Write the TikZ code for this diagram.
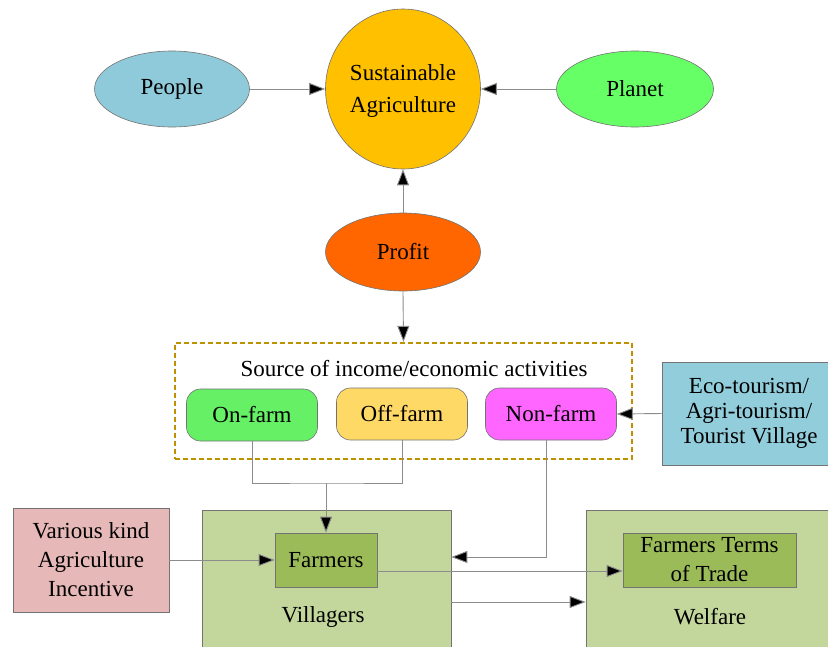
\documentclass[tikz,border=0pt]{standalone}
\usepackage{fontspec}
\setmainfont{Liberation Serif}
\newfontfamily\timesfont{Liberation Serif}
\usetikzlibrary{arrows.meta,shapes.geometric}
\definecolor{cPeople}{HTML}{8FCADA}
\definecolor{cSA}{HTML}{FFC000}
\definecolor{cPlanet}{HTML}{66FF66}
\definecolor{cProfit}{HTML}{FF6600}
\definecolor{cOn}{HTML}{66F066}
\definecolor{cOff}{HTML}{FFD966}
\definecolor{cNon}{HTML}{FF66FF}
\definecolor{cEco}{HTML}{92CDDC}
\definecolor{cVill}{HTML}{C3D69B}
\definecolor{cFarm}{HTML}{9BBB59}
\definecolor{cInc}{HTML}{E6B9B8}
\definecolor{cDash}{HTML}{BF9000}
\definecolor{cLine}{HTML}{8C8C8C}
\tikzset{
  txt/.style={font=\timesfont\fontsize{23}{29}\selectfont},
  base/.style={txt, align=center, inner sep=0pt, draw=black!55, line width=0.6pt},
  oval/.style={base, ellipse},
  pill/.style={base, rounded corners=14pt, minimum width=131pt, minimum height=52pt},
  box/.style={base, rectangle},
  lbl/.style={txt, align=center, inner sep=0pt},
  conn/.style={draw=cLine, line width=0.9pt},
  arr/.style={conn, -{Triangle[length=16pt,width=12pt,fill=black]}},
}
\begin{document}
\begin{tikzpicture}[x=1pt,y=-1pt]
\useasboundingbox (0,0) rectangle (828,646);
\clip (0,0) rectangle (828,646);
\fill[white] (0,0) rectangle (828,646);

% top level: the three pillars
\node[oval, fill=cSA, minimum width=155pt, minimum height=160pt] (sa) at (403,89) {};
\node[lbl, font=\timesfont\fontsize{23}{32}\selectfont] (satext) at (403,91) {Sustainable\\Agriculture};
\node[oval, fill=cPeople, minimum width=155pt, minimum height=76pt] (people) at (172,89) {People};
\node[oval, fill=cPlanet, minimum width=157pt, minimum height=76pt] (planet) at (635,89) {Planet};
\node[oval, fill=cProfit, minimum width=155pt, minimum height=78pt] (profit) at (403,252) {Profit};

% income sources
\node[draw=cDash, line width=2.2pt, dash pattern=on 5pt off 3pt, minimum width=457pt, minimum height=116pt, inner sep=0pt] (src) at (403.5,401) {};
\node[lbl] (srctitle) at (414,369) {Source of income/economic activities};
\node[pill, fill=cOn] (onfarm) at (252,415) {On-farm};
\node[pill, fill=cOff] (offfarm) at (402,414) {Off-farm};
\node[pill, fill=cNon] (nonfarm) at (551,414) {Non-farm};
\node[box, fill=cEco, minimum width=178pt, minimum height=103pt] (ecobox) at (751,413.5) {};
\node[lbl, font=\timesfont\fontsize{23}{25}\selectfont] (eco) at (749,413.5) {Eco-tourism/\\Agri-tourism/\\Tourist Village};

% bottom: villagers and welfare
\node[box, fill=cVill, minimum width=249pt, minimum height=160pt] (villagers) at (326.5,590) {};
\node[lbl] (villlbl) at (323,617) {Villagers};
\node[box, fill=cVill, minimum width=254pt, minimum height=160pt] (welfare) at (713,590) {};
\node[lbl] (welflbl) at (710,617) {Welfare};
\node[box, fill=cFarm, minimum width=102pt, minimum height=54pt] (farmers) at (326,560) {Farmers};
\node[box, fill=cFarm, minimum width=173pt, minimum height=54pt] (ftt) at (709.5,560) {Farmers Terms\\of Trade};
\node[box, fill=cInc, minimum width=156pt, minimum height=104pt] (incentive) at (91,560) {Various kind\\Agriculture\\Incentive};

% connectors
\draw[arr] (people.east) -- (sa.west);
\draw[arr] (planet.west) -- (sa.east);
\draw[arr] (profit.north) -- (sa.south);
\draw[arr] (profit.south) -- (src.north);
\draw[arr] (ecobox.west) -- (nonfarm.east);

\coordinate (join) at (326,483);
\draw[conn] (onfarm.south) |- (join) -| (offfarm.south);
\draw[arr] (join) -- (farmers.north);

\coordinate (nfturn) at (546,557);
\draw[arr] (nonfarm.south -| nfturn) -- (nfturn) -- (villagers.east |- nfturn);

\draw[arr] (incentive.east) -- (farmers.west);
\draw[arr] ([yshift=-11pt]farmers.east) -- ([yshift=-11pt]ftt.west);
\coordinate (vw) at (0,602);
\draw[arr] (villagers.east |- vw) -- (welfare.west |- vw);
\end{tikzpicture}
\end{document}
